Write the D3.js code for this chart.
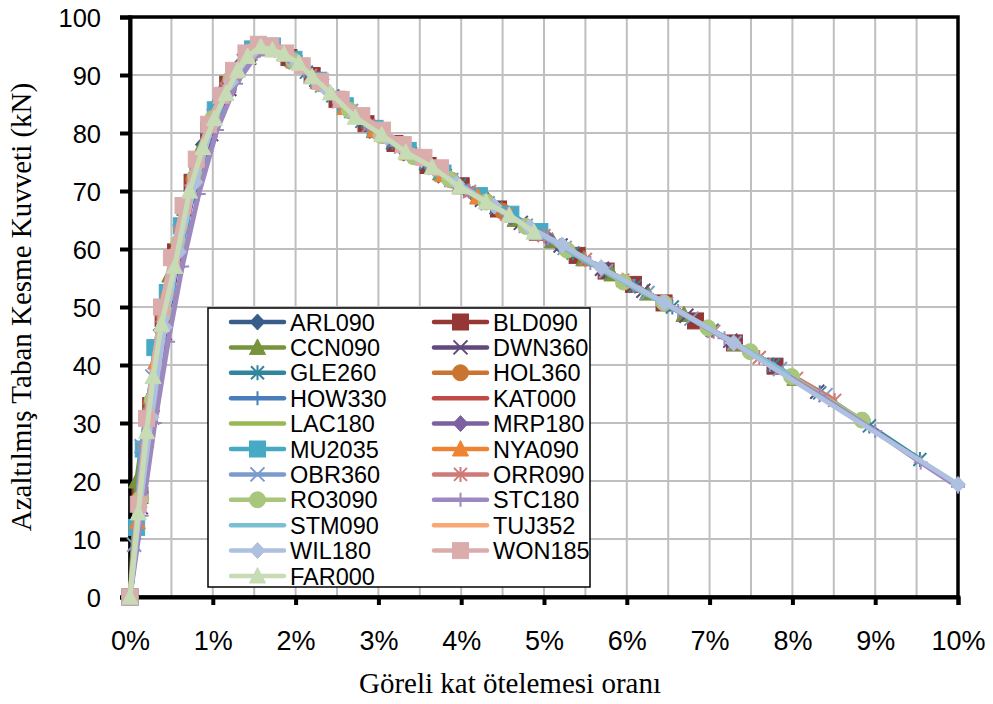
<!DOCTYPE html>
<html><head><meta charset="utf-8">
<script src="https://cdn.jsdelivr.net/npm/d3@7"></script>
<style>html,body{margin:0;padding:0;background:#fff;}svg{display:block;}</style>
</head><body>
<svg id="chart" width="993" height="704"></svg>
<script>
// ---- data: [drift %, force kN] ----
const ARL090 = [[0,0],[0.11,16],[0.23,31],[0.37,46],[0.52,57.5],[0.69,68.5],[0.88,78],[1.08,85.5],[1.3,91.4],[1.52,94.8],[1.75,94.4],[2.0,92.2],[2.3,88.5],[2.62,84.2],[2.95,80.4],[3.3,77.1],[3.68,73.8],[4.05,70.3],[4.45,66.9],[4.85,63.4],[5.2,60.5]];
const BLD090 = [[0,0],[0.12,17.5],[0.25,33],[0.4,48],[0.55,59.5],[0.75,71.5],[0.95,80.5],[1.18,88.4],[1.42,93.6],[1.66,94.8],[1.92,93],[2.2,89.9],[2.5,85.8],[2.85,81.6],[3.2,78.2],[3.6,74.4],[4.0,70.9],[4.45,66.9],[4.92,62.9],[5.4,58.9],[5.75,56.2],[6.08,53.9],[6.45,50.7],[6.83,47.6],[7.3,43.8],[7.79,39.8]];
const CCN090 = [[0,0],[0.08,20],[0.2,32],[0.33,43.5],[0.48,55.5],[0.66,67],[0.86,77.5],[1.06,84.8],[1.28,90.8],[1.5,94.6],[1.73,94.5],[1.98,92.4],[2.27,88.9],[2.6,84.4],[2.95,80.4],[3.35,76.6],[3.75,73.1],[4.2,69],[4.65,65.1],[5.1,61.4],[5.48,58.3],[5.82,55.7],[6.25,52.4],[6.69,48.7],[7.31,43.7],[8.03,37.7]];
const DWN360 = [[0,0],[0.13,15.5],[0.27,31],[0.42,45.5],[0.58,58],[0.78,70.5],[0.98,79.8],[1.2,87.6],[1.44,93],[1.68,94.6],[1.95,92.7],[2.25,89.2],[2.6,84.4],[2.97,80.3],[3.38,76.4],[3.8,72.6],[4.25,68.5],[4.72,64.5],[5.2,60.6],[5.7,56.6],[6.2,52.8],[6.72,48.5],[7.25,44.2],[7.78,39.9],[8.3,35.4]];
const GLE260 = [[0,0],[0.11,14.5],[0.24,30.5],[0.38,45],[0.54,57.5],[0.73,69],[0.93,79],[1.14,86.8],[1.37,92.5],[1.6,95],[1.85,93.6],[2.13,90.5],[2.45,86.4],[2.8,82],[3.17,78.3],[3.57,74.7],[3.98,71],[4.42,67.1],[4.88,63.2],[5.35,59.3],[5.75,56.2],[6.1,53.6],[6.55,50],[7.03,46],[7.77,40],[8.33,35.2],[8.93,29.5],[9.54,23.7]];
const HOL360 = [[0,0],[0.12,17],[0.26,33.5],[0.41,48.5],[0.57,59.5],[0.77,72],[0.97,81.6],[1.2,88.6],[1.44,93.7],[1.7,94.8],[1.98,92.5],[2.3,88.5],[2.66,83.8],[3.05,79.6],[3.45,75.9],[3.88,71.9],[4.3,68.2],[4.5,66.5]];
const HOW330 = [[0,0],[0.14,18],[0.28,35],[0.44,49],[0.62,62],[0.82,73.5],[1.03,83],[1.26,90],[1.5,94.3],[1.76,94.4],[2.05,91.8],[2.38,87.4],[2.74,82.8],[3.12,78.9],[3.52,75.3],[3.95,71.4],[4.38,67.6],[4.8,63.9]];
const KAT000 = [[0,0],[0.1,15.5],[0.2,30],[0.3,40.5],[0.45,53],[0.6,63.5],[0.8,74.5],[1.0,82.8],[1.2,89.3],[1.4,93.5],[1.6,95.2],[1.8,94.2],[2.0,92.3],[2.3,88.5],[2.6,84.5],[3.0,80.2],[3.4,76.3],[3.7,73.6],[4.0,70.9]];
const LAC180 = [[0,0],[0.1,15],[0.2,29.5],[0.3,40],[0.45,52.5],[0.6,63.2],[0.8,74],[1.0,82.6],[1.2,89.1],[1.4,93.4],[1.6,95],[1.8,94],[2.0,92.2],[2.3,88.4],[2.6,84.4],[3.0,80],[3.4,76.2],[3.8,72.6],[4.2,69],[4.6,65.6],[5.0,62.3]];
const MRP180 = [[0,0],[0.12,16.5],[0.25,32],[0.4,47.5],[0.56,58.5],[0.75,71],[0.95,80.5],[1.17,88],[1.41,93.3],[1.66,94.9],[1.93,93],[2.24,89.4],[2.58,84.6],[2.94,80.5],[3.32,76.9],[3.72,73.5],[4.14,69.5],[4.6,65.5],[5.05,61.8],[5.3,59.8]];
const MU2035 = [[0,0],[0.08,12],[0.16,25.5],[0.3,43],[0.45,52.5],[0.62,64],[0.82,74.8],[1.03,84],[1.25,90.5],[1.48,94.5],[1.72,95],[1.98,92.7],[2.28,89.1],[2.6,84.7],[2.96,80.8],[3.36,77],[3.78,73.1],[4.22,69.2],[4.6,66],[4.95,63]];
const NYA090 = [[0,0],[0.09,13],[0.19,27],[0.31,40.5],[0.46,53],[0.62,64.5],[0.82,75],[1.02,83.3],[1.24,89.9],[1.47,94.2],[1.72,94.7],[1.98,92.5],[2.28,88.8],[2.6,84.4],[2.96,80.5],[3.35,76.6],[3.78,72.8],[4.2,69]];
const OBR360 = [[0,0],[0.05,9],[0.14,26],[0.27,38],[0.42,50],[0.6,63],[0.8,74],[1.01,83],[1.24,90],[1.48,94.3],[1.73,94.6],[2.0,92.2],[2.32,88.2],[2.67,83.8],[3.05,79.8],[3.45,76],[3.88,71.9],[4.32,67.9],[4.78,64],[5.25,60.2],[5.75,56.2],[6.25,52.4],[6.78,48],[7.3,43.8],[7.85,39.3],[8.4,34.8]];
const ORR090 = [[0,0],[0.11,16],[0.24,31.5],[0.39,46.5],[0.55,58.5],[0.74,70],[0.94,80],[1.16,87.6],[1.39,93],[1.63,95],[1.89,93.4],[2.18,89.9],[2.52,85.4],[2.88,81.3],[3.27,77.6],[3.68,73.9],[4.1,69.9],[4.55,66],[5.0,62.3],[5.5,58.2],[5.95,54.6],[6.48,50.6],[7.05,45.8],[7.6,41.3],[8.05,37.7],[8.51,33.9]];
const RO3090 = [[0,0],[0.13,17],[0.27,34],[0.43,49],[0.59,61],[0.79,72.5],[1.0,82.5],[1.22,89.4],[1.46,94],[1.71,94.5],[1.98,92.4],[2.29,88.6],[2.65,83.9],[3.03,79.6],[3.43,75.9],[3.86,72],[4.3,68.1],[4.78,63.9],[5.28,59.8],[5.96,54.3],[6.45,50.7],[6.98,46.4],[7.49,42.3],[7.99,38],[8.84,30.5]];
const STC180 = [[0,0],[0.14,14],[0.3,30],[0.46,44],[0.63,57],[0.83,69.5],[1.05,80.5],[1.28,88.5],[1.53,93.6],[1.8,93.6],[2.1,90.7],[2.45,86.3],[2.83,81.6],[3.22,77.8],[3.64,74],[4.08,70.1],[4.55,65.9],[5.05,61.8],[5.56,57.6],[6.08,53.6],[6.62,49.3],[7.18,44.6],[7.73,40],[8.33,34.8],[9.0,28.6],[9.55,23.2],[10,19]];
const STM090 = [[0,0],[0.1,15],[0.22,31],[0.36,44.5],[0.52,57.5],[0.72,70],[0.93,79.8],[1.15,87.5],[1.38,92.9],[1.62,95],[1.88,93.3],[2.18,89.9],[2.52,85.4],[2.9,81],[3.3,77.3],[3.72,73.5],[4.15,69.5],[4.6,65.6],[5.08,61.6],[5.6,57.3],[6.12,53.2],[6.65,49.1],[7.2,44.6],[7.58,41.5],[7.95,38.4]];
const TUJ352 = [[0,0],[0.08,13],[0.18,27.5],[0.3,42],[0.45,54],[0.6,64.5],[0.8,75],[1.0,83.3],[1.2,89.5],[1.4,93.8],[1.6,95.5],[1.8,94.5],[2.05,92],[2.35,88],[2.7,83.5],[3.05,79.8],[3.4,76.5],[3.8,72.8]];
const WIL180 = [[0,0],[0.12,15.5],[0.26,31],[0.42,46.5],[0.59,59.5],[0.79,71.5],[1.0,81.5],[1.22,88.8],[1.47,93.8],[1.73,94.5],[2.02,92],[2.35,87.8],[2.72,83],[3.1,79.2],[3.52,75.4],[3.95,71.3],[4.4,67.4],[4.82,63.7],[5.22,60.7],[5.69,56.8],[6.45,50.8],[7.29,43.8],[10,19.4]];
const WON185 = [[0,0],[0.1,16],[0.2,30.8],[0.38,50],[0.5,58.5],[0.64,67.5],[0.8,75.5],[0.95,81.5],[1.1,86.5],[1.25,90.8],[1.4,93.8],[1.55,95.3],[1.7,95],[1.88,93.8],[2.08,91.6],[2.3,88.9],[2.55,85.8],[2.8,83],[3.05,80.5],[3.3,78],[3.55,75.8],[3.75,74]];
const FAR000 = [[0,0],[0.1,14.5],[0.2,28.5],[0.28,38],[0.38,47],[0.54,57],[0.72,70],[0.88,77.5],[1.02,82.5],[1.16,86.8],[1.3,90.8],[1.42,93.2],[1.58,94.9],[1.72,94.3],[1.86,93.6],[2.04,92],[2.2,89.7],[2.42,86.9],[2.72,82.7],[3.04,79.7],[3.33,76.7],[3.65,74.1],[3.98,70.7],[4.3,68.1],[4.58,65.8],[4.88,62.9]];

const seriesNames = ["ARL090","BLD090","CCN090","DWN360","GLE260","HOL360","HOW330","KAT000","LAC180","MRP180","MU2035","NYA090","OBR360","ORR090","RO3090","STC180","STM090","TUJ352","WIL180","WON185","FAR000"];
const seriesValues = [ARL090,BLD090,CCN090,DWN360,GLE260,HOL360,HOW330,KAT000,LAC180,MRP180,MU2035,NYA090,OBR360,ORR090,RO3090,STC180,STM090,TUJ352,WIL180,WON185,FAR000];
const xTicks = [0,1,2,3,4,5,6,7,8,9,10];
const yTicks = [0,10,20,30,40,50,60,70,80,90,100];
const xTitle = "Göreli kat ötelemesi oranı";
const yTitle = "Azaltılmış Taban Kesme Kuvveti (kN)";

// ---- styles ----
const seriesColors = ["#385D8A","#953735","#77933C","#604A7B","#31859C","#CB7431","#4A7EBB","#BE4B48","#98B954","#7D60A0","#46AAC5","#EE8333","#7B9BCF","#D07A77","#A8C67C","#9D89BF","#7BBFD3","#F8A775","#AEC0DF","#DAADAC","#C7DBB5"];
const seriesMarkers = ["diamond","square","triangle","x","asterisk","circle","plus","none","none","diamond","square","triangle","x","asterisk","circle","plus","none","none","diamond","square","triangle"];

const svg = d3.select("#chart");
const L = 130, R = 958, T = 17, B = 597;
const x = d3.scaleLinear().domain([0,10]).range([L,R]);
const y = d3.scaleLinear().domain([0,100]).range([B,T]);

// gridlines
const grid = svg.append("g");
grid.selectAll("line.v").data(d3.range(1,20).map(i=>i*0.5)).join("line")
  .attr("x1",d=>x(d)).attr("x2",d=>x(d)).attr("y1",T).attr("y2",B)
  .attr("stroke","#BFBFBF").attr("stroke-width",2);
grid.selectAll("line.h").data(yTicks.slice(1,-1)).join("line")
  .attr("x1",L).attr("x2",R).attr("y1",d=>y(d)).attr("y2",d=>y(d))
  .attr("stroke","#BFBFBF").attr("stroke-width",2);

// plot border
svg.append("rect").attr("x",L).attr("y",T).attr("width",R-L).attr("height",B-T)
  .attr("fill","none").attr("stroke","#000").attr("stroke-width",3.5);

// axes
const yAxis = d3.axisLeft(y).tickValues(yTicks).tickSize(10).tickPadding(20);
const gy = svg.append("g").attr("transform",`translate(${L},0)`).call(yAxis);
gy.select(".domain").attr("stroke","#000").attr("stroke-width",4);
gy.selectAll(".tick line").attr("stroke","#000").attr("stroke-width",4);
gy.selectAll(".tick text").attr("font-family","Liberation Sans, Arial, sans-serif").attr("font-size","25.5px").attr("fill","#000").attr("dy","0.36em").attr("x",-29);

const xAxis = d3.axisBottom(x).tickValues(xTicks).tickSize(8).tickFormat(d=>d+"%");
const gx = svg.append("g").attr("transform",`translate(0,${B})`).call(xAxis);
gx.select(".domain").attr("stroke","#000").attr("stroke-width",4);
gx.selectAll(".tick line").attr("stroke","#000").attr("stroke-width",4);
gx.selectAll(".tick text").attr("font-family","Liberation Sans, Arial, sans-serif").attr("font-size","27px").attr("fill","#000").attr("dy",0).attr("y",53);

// titles
svg.append("text").attr("x",510).attr("y",693).attr("text-anchor","middle")
  .attr("font-family","Liberation Serif, Times New Roman, serif").attr("font-size","29px").text(xTitle);
svg.append("text").attr("transform","translate(31,307) rotate(-90)").attr("text-anchor","middle")
  .attr("font-family","Liberation Serif, Times New Roman, serif").attr("font-size","29px").text(yTitle);

// markers
function drawMarker(g, type, cx, cy, color){
  if(type==="square"){
    g.append("rect").attr("x",cx-8).attr("y",cy-8).attr("width",16).attr("height",16).attr("fill",color).attr("stroke",color);
  } else if(type==="diamond"){
    g.append("path").attr("d",`M${cx},${cy-8}L${cx+7.5},${cy}L${cx},${cy+8}L${cx-7.5},${cy}Z`).attr("fill",color).attr("stroke",color);
  } else if(type==="triangle"){
    g.append("path").attr("d",`M${cx},${cy-8.5}L${cx+8},${cy+7}L${cx-8},${cy+7}Z`).attr("fill",color).attr("stroke",color);
  } else if(type==="circle"){
    g.append("circle").attr("cx",cx).attr("cy",cy).attr("r",8).attr("fill",color).attr("stroke",color);
  } else if(type==="x"){
    g.append("path").attr("d",`M${cx-7},${cy-7}L${cx+7},${cy+7}M${cx-7},${cy+7}L${cx+7},${cy-7}`).attr("stroke",color).attr("stroke-width",2).attr("fill","none");
  } else if(type==="asterisk"){
    g.append("path").attr("d",`M${cx-6.5},${cy-6.5}L${cx+6.5},${cy+6.5}M${cx-6.5},${cy+6.5}L${cx+6.5},${cy-6.5}M${cx},${cy-7.5}L${cx},${cy+7.5}`).attr("stroke",color).attr("stroke-width",2).attr("fill","none");
  } else if(type==="plus"){
    g.append("path").attr("d",`M${cx-7},${cy}L${cx+7},${cy}M${cx},${cy-7}L${cx},${cy+7}`).attr("stroke",color).attr("stroke-width",2).attr("fill","none");
  }
}

const line = d3.line().x(d=>x(d[0])).y(d=>y(d[1]));
const plot = svg.append("g");
seriesValues.forEach((vals,i)=>{
  const g = plot.append("g");
  g.append("path").attr("d",line(vals)).attr("fill","none").attr("stroke",seriesColors[i])
    .attr("stroke-width",5).attr("stroke-linejoin","round").attr("stroke-linecap","round");
  if(seriesMarkers[i]!=="none") vals.forEach(d=>drawMarker(g,seriesMarkers[i],x(d[0]),y(d[1]),seriesColors[i]));
});

// legend
const lg = svg.append("g");
lg.append("rect").attr("x",208).attr("y",308).attr("width",382).attr("height",279)
  .attr("fill","#fff").attr("stroke","#000").attr("stroke-width",1.5);
seriesNames.forEach((n,i)=>{
  const col = i%2, row = Math.floor(i/2);
  const cy = 322 + row*25.4;
  const lx = col===0 ? 231 : 434;
  const g = lg.append("g");
  g.append("line").attr("x1",lx).attr("x2",lx+53).attr("y1",cy).attr("y2",cy)
    .attr("stroke",seriesColors[i]).attr("stroke-width",4.5).attr("stroke-linecap","round");
  if(seriesMarkers[i]!=="none") drawMarker(g,seriesMarkers[i],lx+26.5,cy,seriesColors[i]);
  g.append("text").attr("x",lx+59).attr("y",cy+8.5).attr("font-family","Liberation Sans, Arial, sans-serif")
    .attr("font-size","23.5px").attr("fill","#000").text(n);
});
</script>
</body></html>
